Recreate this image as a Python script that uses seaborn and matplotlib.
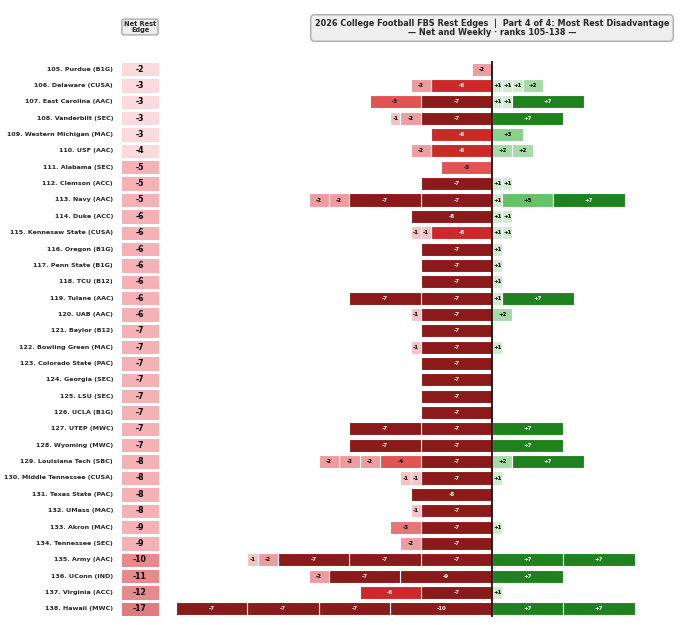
import numpy as np
import pandas as pd
import seaborn as sns
import matplotlib.pyplot as plt
from matplotlib.colors import ListedColormap

sns.set_theme(style='white')
plt.rcParams['font.family'] = ['DejaVu Sans']

# teams ranked 105-138
teams = [
    '105. Purdue (B1G)', '106. Delaware (CUSA)', '107. East Carolina (AAC)',
    '108. Vanderbilt (SEC)', '109. Western Michigan (MAC)', '110. USF (AAC)',
    '111. Alabama (SEC)', '112. Clemson (ACC)', '113. Navy (AAC)',
    '114. Duke (ACC)', '115. Kennesaw State (CUSA)', '116. Oregon (B1G)',
    '117. Penn State (B1G)', '118. TCU (B12)', '119. Tulane (AAC)',
    '120. UAB (AAC)', '121. Baylor (B12)', '122. Bowling Green (MAC)',
    '123. Colorado State (PAC)', '124. Georgia (SEC)', '125. LSU (SEC)',
    '126. UCLA (B1G)', '127. UTEP (MWC)', '128. Wyoming (MWC)',
    '129. Louisiana Tech (SBC)', '130. Middle Tennessee (CUSA)',
    '131. Texas State (PAC)', '132. UMass (MAC)', '133. Akron (MAC)',
    '134. Tennessee (SEC)', '135. Army (AAC)', '136. UConn (IND)',
    '137. Virginia (ACC)', '138. Hawaii (MWC)',
]

# weekly rest disadvantages (days) per team
neg_weeks = [
    [-2], [-6, -2], [-7, -5], [-7, -2, -1], [-6], [-6, -2], [-5], [-7],
    [-7, -7, -2, -2], [-8], [-6, -1, -1], [-7], [-7], [-7], [-7, -7],
    [-7, -1], [-7], [-7, -1], [-7], [-7], [-7], [-7], [-7, -7], [-7, -7],
    [-7, -4, -2, -2, -2], [-7, -1, -1], [-8], [-7, -1], [-7, -3], [-7, -2],
    [-7, -7, -7, -2, -1], [-9, -7, -2], [-7, -6], [-10, -7, -7, -7],
]

# weekly rest advantages (days) per team
pos_weeks = [
    [], [1, 1, 1, 2], [1, 1, 7], [7], [3], [2, 2], [], [1, 1],
    [1, 5, 7], [1, 1], [1, 1], [1], [1], [1], [1, 7],
    [2], [], [1], [], [], [], [], [7], [7],
    [2, 7], [1], [], [], [1], [],
    [7, 7], [7], [1], [7, 7],
]

net = [sum(n) + sum(p) for n, p in zip(neg_weeks, pos_weeks)]

neg_colors = {1: '#f4c3c5', 2: '#ee9c9f', 3: '#e57676', 4: '#e05454',
              5: '#e05454', 6: '#cc2a2a'}
pos_colors = {1: '#cfeccf', 2: '#a6daa6', 3: '#8dcf8d', 5: '#66c266'}
net_colors = ['#fadadd', '#f4b1b6', '#e8898d', '#e27b80']


def seg_color(v):
    if v < 0:
        return neg_colors.get(-v, '#8b1a1a')
    return pos_colors.get(v, '#1f821f')


def net_bin(v):
    if v >= -4:
        return 0
    if v >= -9:
        return 1
    if v >= -12:
        return 2
    return 3


fig = plt.figure(figsize=(6.8, 6.25), dpi=100)

# net column as a one-column heatmap
ax_net = fig.add_axes([120 / 680, 8 / 625, 40 / 680, 556 / 625])
df_net = pd.DataFrame({'net': [net_bin(v) for v in net]}, index=teams)
sns.heatmap(df_net, ax=ax_net, cmap=ListedColormap(net_colors), vmin=-0.5, vmax=3.5,
            annot=np.array(net).reshape(-1, 1), fmt='d', cbar=False,
            linewidths=1.0, linecolor='white',
            annot_kws={'fontsize': 5.6, 'fontweight': 'bold', 'color': 'black'})
ax_net.set_xticks([])
ax_net.set_ylabel('')
ax_net.tick_params(axis='y', length=0, pad=5)
for lab in ax_net.get_yticklabels():
    lab.set_fontsize(4.6)
    lab.set_fontweight('bold')
    lab.set_rotation(0)

# stacked weekly bars
ax = fig.add_axes([170 / 680, 8 / 625, 480 / 680, 556 / 625])
for i, (nw, pw) in enumerate(zip(neg_weeks, pos_weeks)):
    for vals in (sorted(nw), sorted(pw)):
        start = 0
        for v in vals:
            ax.barh(i, v, left=start, height=0.8, color=seg_color(v),
                    edgecolor='white', linewidth=0.8)
            txt_col = 'white' if abs(v) >= 6 else 'black'
            ax.text(start + v / 2, i, f'{v:+d}', ha='center', va='center',
                    fontsize=4.0, fontweight='bold', color=txt_col)
            start += v

ax.axvline(0, color='black', linewidth=1.2)
ax.set_xlim(-31.6, 15.5)
ax.set_ylim(len(teams) - 0.5, -0.5)
ax.set_xticks([])
ax.set_yticks([])
sns.despine(ax=ax, left=True, bottom=True)

fig.text(140 / 680, 1 - 27 / 625, 'Net Rest\nEdge', ha='center', va='center',
         fontsize=4.8, fontweight='bold', linespacing=0.95,
         bbox=dict(boxstyle='round,pad=0.3', facecolor='#eeeeee', edgecolor='#aaaaaa'))
fig.text(492 / 680, 1 - 28 / 625,
         '2026 College Football FBS Rest Edges  |  Part 4 of 4: Most Rest Disadvantage\n'
         '— Net and Weekly · ranks 105-138 —',
         ha='center', va='center', fontsize=5.9, fontweight='bold', linespacing=1.05,
         bbox=dict(boxstyle='round,pad=0.5', facecolor='#eeeeee', edgecolor='#aaaaaa'))

fig.savefig('out.png', dpi=100)
